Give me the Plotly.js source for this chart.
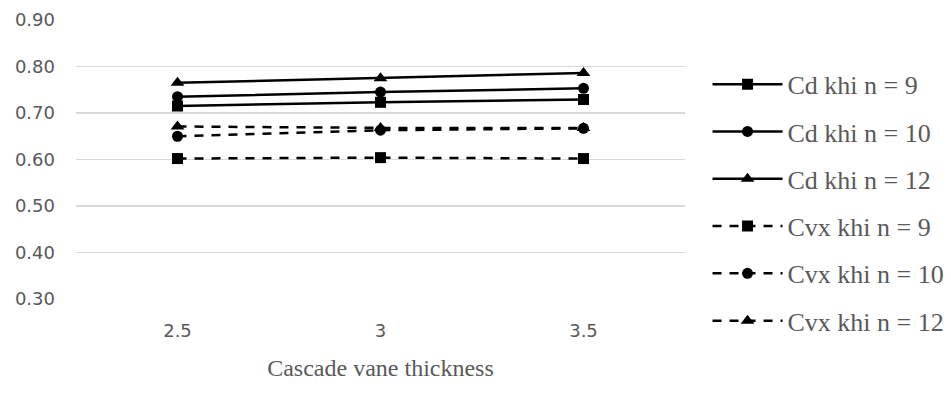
<!DOCTYPE html>
<html>
<head>
<meta charset="utf-8">
<script src="https://cdn.plot.ly/plotly-3.0.1.min.js"></script>
<style>html,body{margin:0;padding:0;background:#fff;}#chart{width:951px;height:394px;}</style>
</head>
<body>
<div id="chart"></div>
<script>
const categories = ["2.5", "3", "3.5"];
const seriesNames = ["Cd khi n = 9", "Cd khi n = 10", "Cd khi n = 12", "Cvx khi n = 9", "Cvx khi n = 10", "Cvx khi n = 12"];
const cdN9 = [0.715, 0.723, 0.729];
const cdN10 = [0.735, 0.745, 0.753];
const cdN12 = [0.765, 0.775, 0.786];
const cvxN9 = [0.602, 0.604, 0.602];
const cvxN10 = [0.650, 0.663, 0.667];
const cvxN12 = [0.671, 0.668, 0.668];
const yTicks = [0.30, 0.40, 0.50, 0.60, 0.70, 0.80, 0.90];

const seriesValues = [cdN9, cdN10, cdN12, cvxN9, cvxN10, cvxN12];
const symbols = ["square", "circle", "triangle-up", "square", "circle", "triangle-up"];
const sizes = [11, 11, 12, 11, 11, 12];
const dashes = ["solid", "solid", "solid", "9px,8px", "9px,8px", "9px,8px"];

const traces = seriesValues.map((vals, i) => ({
  type: "scatter",
  mode: "lines+markers",
  x: categories,
  y: vals,
  name: seriesNames[i],
  legendgroup: "g" + i,
  line: {color: "#000000", width: 2.5, dash: dashes[i]},
  marker: {symbol: symbols[i], size: sizes[i], color: "#000000"}
}));

const layout = {
  width: 951,
  height: 394,
  margin: {l: 76, r: 266, t: 20, b: 95, autoexpand: false},
  paper_bgcolor: "#ffffff",
  plot_bgcolor: "#ffffff",
  font: {family: "DejaVu Sans", size: 18, color: "#595959"},
  xaxis: {
    type: "category",
    range: [-0.5, 2.5],
    showgrid: false,
    showline: false,
    zeroline: false,
    ticks: "",
    tickfont: {family: "DejaVu Sans", size: 18, color: "#595959"},
    ticklabelstandoff: 19,
    title: {text: "Cascade vane thickness", font: {family: "Liberation Serif", size: 24, color: "#595959"}, standoff: 19}
  },
  yaxis: {
    range: [0.30, 0.90],
    tickvals: yTicks,
    ticktext: yTicks.map(v => v.toFixed(2)),
    showgrid: true,
    gridcolor: "#d9d9d9",
    gridwidth: 1.3,
    zeroline: false,
    showline: false,
    ticks: "",
    tickfont: {family: "DejaVu Sans", size: 18, color: "#595959"},
    ticklabelstandoff: 20
  },
  showlegend: true,
  legend: {
    x: 1.037,
    xanchor: "left",
    y: 0.854,
    yanchor: "top",
    traceorder: "grouped",
    tracegroupgap: 10.5,
    itemwidth: 70,
    font: {family: "Liberation Serif", size: 26, color: "#595959"},
    bgcolor: "rgba(0,0,0,0)"
  }
};

Plotly.newPlot("chart", traces, layout, {displayModeBar: false, staticPlot: true});
</script>
</body>
</html>
